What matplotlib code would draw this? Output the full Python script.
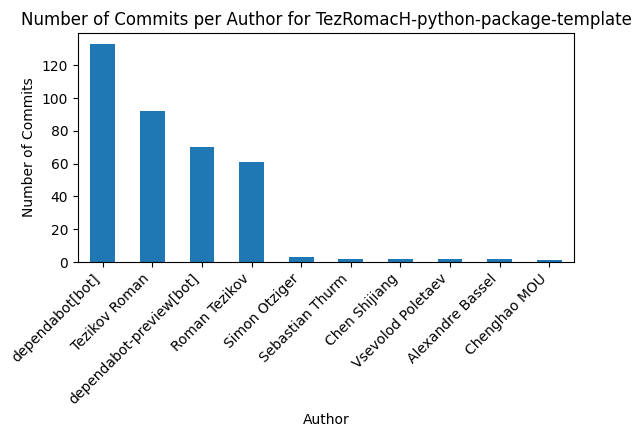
import matplotlib
matplotlib.use("Agg")
import matplotlib.pyplot as plt
import pandas as pd

authors = ["dependabot[bot]", "Tezikov Roman", "dependabot-preview[bot]", "Roman Tezikov",
           "Simon Otziger", "Sebastian Thurm", "Chen Shijiang", "Vsevolod Poletaev",
           "Alexandre Bassel", "Chenghao MOU"]
commits = [133, 92, 70, 61, 3, 2, 2, 2, 2, 1]

counts = pd.Series(commits, index=authors)

fig = plt.figure(figsize=(6.41, 4.37), dpi=100)
ax = fig.add_axes([78 / 641, 1 - 262 / 437, (574 - 78) / 641, (262 - 33) / 437])
counts.plot(kind="bar", ax=ax, color="#1f77b4")
ax.set_title("Number of Commits per Author for TezRomacH-python-package-template")
ax.set_xlabel("Author")
ax.set_ylabel("Number of Commits")
plt.setp(ax.get_xticklabels(), rotation=45, ha="right")
fig.savefig("out.png", dpi=100)
